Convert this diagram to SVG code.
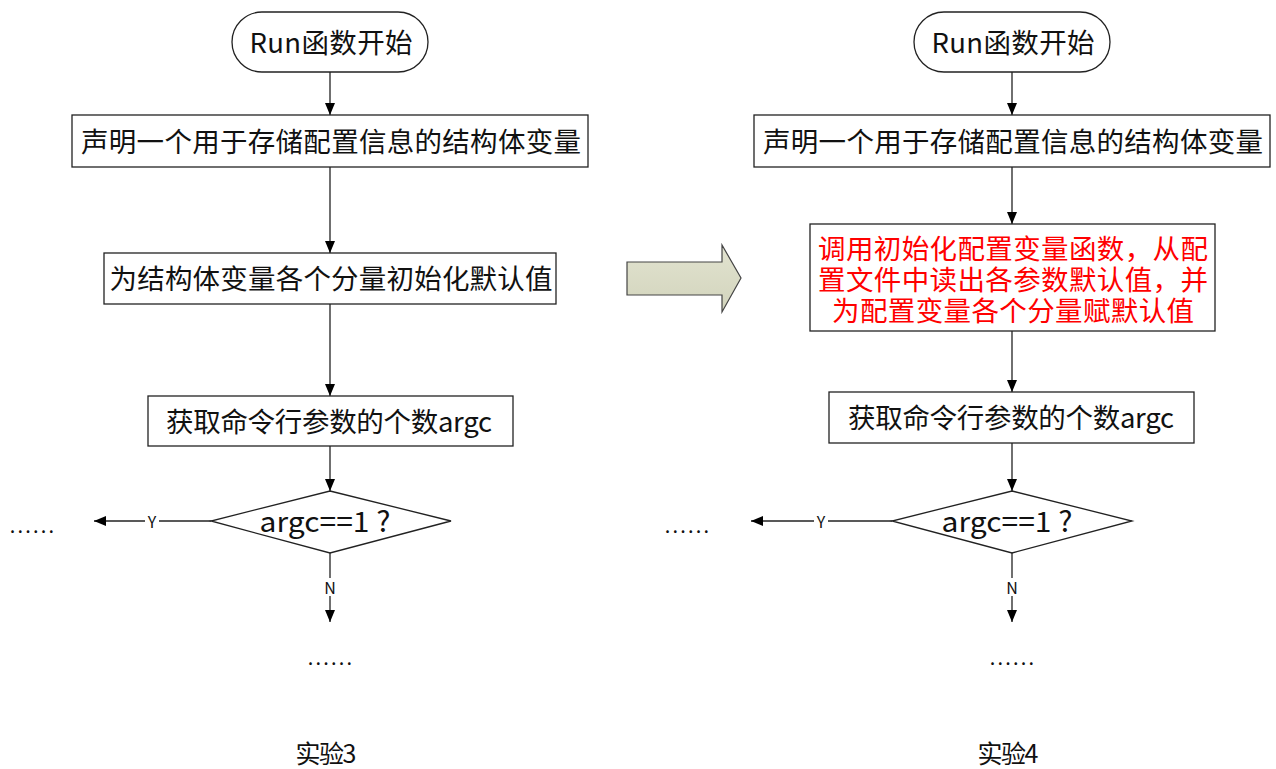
<svg xmlns="http://www.w3.org/2000/svg" width="1276" height="769" viewBox="0 0 1276 769">
<style>
.shape{fill:#fff;stroke:#222;stroke-width:1.3}
.t{font-family:"Noto Sans CJK SC","Noto Sans",sans-serif;font-size:27.5px;fill:#111;text-anchor:middle;dominant-baseline:central}
.red{fill:#ff0000}
.small{font-size:16px}
.dots{font-size:20px;letter-spacing:2.2px}
.cap{font-size:25px}
.dec{font-size:28px}
.ln{stroke:#222;stroke-width:1.3;fill:none}
</style>
<defs>
<marker id="ah" markerWidth="12" markerHeight="10" refX="12" refY="5" orient="auto" markerUnits="userSpaceOnUse">
<path d="M0,0 L12,5 L0,10 Z" fill="#000"/>
</marker>
<linearGradient id="ag" x1="0" y1="0" x2="0" y2="1">
<stop offset="0" stop-color="#e2e3d0"/>
<stop offset="1" stop-color="#d2d4bc"/>
</linearGradient>
</defs>

<g id="connectors">
<line class="ln" x1="330" y1="72" x2="330" y2="115" marker-end="url(#ah)"/>
<line class="ln" x1="330" y1="167" x2="330" y2="253" marker-end="url(#ah)"/>
<line class="ln" x1="330" y1="304" x2="330" y2="396" marker-end="url(#ah)"/>
<line class="ln" x1="330" y1="446" x2="330" y2="491" marker-end="url(#ah)"/>
<line class="ln" x1="211" y1="521" x2="94" y2="521" marker-end="url(#ah)"/>
<line class="ln" x1="330" y1="553" x2="330" y2="622" marker-end="url(#ah)"/>
<rect x="145" y="512" width="14" height="18" fill="#fff"/>
<text class="t small" x="152" y="521">Y</text>
<rect x="323" y="578" width="14" height="18" fill="#fff"/>
<text class="t small" x="330" y="587">N</text>

<line class="ln" x1="1012" y1="72" x2="1012" y2="115" marker-end="url(#ah)"/>
<line class="ln" x1="1012" y1="167" x2="1012" y2="224" marker-end="url(#ah)"/>
<line class="ln" x1="1012" y1="331" x2="1012" y2="392" marker-end="url(#ah)"/>
<line class="ln" x1="1012" y1="443" x2="1012" y2="491" marker-end="url(#ah)"/>
<line class="ln" x1="892" y1="521" x2="751" y2="521" marker-end="url(#ah)"/>
<line class="ln" x1="1012" y1="553" x2="1012" y2="622" marker-end="url(#ah)"/>
<rect x="814" y="512" width="14" height="18" fill="#fff"/>
<text class="t small" x="821" y="521">Y</text>
<rect x="1005" y="578" width="14" height="18" fill="#fff"/>
<text class="t small" x="1012" y="587">N</text>
</g>

<g id="start3">
<rect class="shape" x="232" y="12" width="196" height="60" rx="30" ry="30"/>
<text class="t" x="331" y="41" textLength="163">Run函数开始</text>
</g>
<g id="decl3">
<rect class="shape" x="72" y="115" width="516" height="52"/>
<text class="t" x="331" y="140" textLength="500">声明一个用于存储配置信息的结构体变量</text>
</g>
<g id="init3">
<rect class="shape" x="104" y="253" width="452" height="51"/>
<text class="t" x="331" y="277" textLength="443">为结构体变量各个分量初始化默认值</text>
</g>
<g id="argc3">
<rect class="shape" x="148" y="396" width="365" height="50"/>
<text class="t" x="329" y="420" textLength="326">获取命令行参数的个数argc</text>
</g>
<g id="dec3">
<polygon class="shape" points="330,491 451,521 330,553 211,521"/>
<text class="t dec" x="325" y="520" textLength="131" lengthAdjust="spacingAndGlyphs">argc==1 ?</text>
</g>
<g id="dotsY3"><text class="t dots" x="33" y="524">......</text></g>
<g id="dotsN3"><text class="t dots" x="331" y="656">......</text></g>
<g id="cap3"><text class="t cap" x="326" y="752" textLength="61">实验3</text></g>

<g id="bigarrow">
<polygon points="627,262 722,262 722,245 741,278 722,312 722,295 627,295" fill="url(#ag)" stroke="#444" stroke-width="1.2"/>
</g>

<g id="start4">
<rect class="shape" x="914" y="12" width="196" height="60" rx="30" ry="30"/>
<text class="t" x="1013" y="41" textLength="163">Run函数开始</text>
</g>
<g id="decl4">
<rect class="shape" x="754" y="115" width="516" height="52"/>
<text class="t" x="1013" y="140" textLength="500">声明一个用于存储配置信息的结构体变量</text>
</g>
<g id="init4">
<rect class="shape" x="810" y="224" width="405" height="107"/>
<text class="t red"><tspan x="1013" y="247" textLength="390">调用初始化配置变量函数，从配</tspan><tspan x="1013" y="278" textLength="390">置文件中读出各参数默认值，并</tspan><tspan x="1013" y="309" textLength="362">为配置变量各个分量赋默认值</tspan></text>
</g>
<g id="argc4">
<rect class="shape" x="829" y="392" width="365" height="51"/>
<text class="t" x="1011" y="416" textLength="326">获取命令行参数的个数argc</text>
</g>
<g id="dec4">
<polygon class="shape" points="1012,491 1132,521 1012,553 892,521"/>
<text class="t dec" x="1007" y="520" textLength="131" lengthAdjust="spacingAndGlyphs">argc==1 ?</text>
</g>
<g id="dotsY4"><text class="t dots" x="688" y="524">......</text></g>
<g id="dotsN4"><text class="t dots" x="1013" y="656">......</text></g>
<g id="cap4"><text class="t cap" x="1008" y="752" textLength="61">实验4</text></g>
</svg>
